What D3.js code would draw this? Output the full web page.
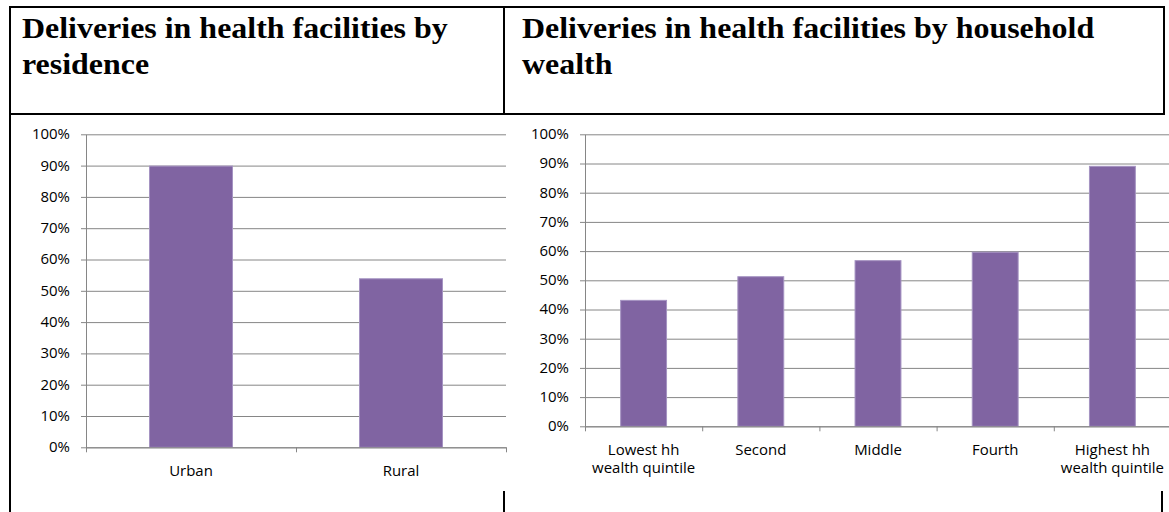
<!DOCTYPE html>
<html>
<head>
<meta charset="utf-8">
<script src="https://cdn.jsdelivr.net/npm/d3@7"></script>
<style>
  body { margin: 0; background: #fff; }
  svg { display: block; }
</style>
</head>
<body>
<svg id="chart" width="1169" height="512"></svg>
<script>
// Share of deliveries taking place in health facilities (%)
const residenceCategories = ["Urban", "Rural"];
const residenceValues = [90.0, 54.0];

const wealthCategories = ["Lowest hh\nwealth quintile", "Second", "Middle", "Fourth", "Highest hh\nwealth quintile"];
const wealthValues = [43.3, 51.4, 56.9, 59.8, 89.2];

const percentTicks = [0, 10, 20, 30, 40, 50, 60, 70, 80, 90, 100];

const titles = [
  "Deliveries in health facilities by\nresidence",
  "Deliveries in health facilities by household\nwealth"
];

const svg = d3.select("#chart");
const BAR = "#8064A2", BAR_EDGE = "#A593C2", GRID = "#868686";
const labelFont = "'Open Sans', sans-serif";
const stretch = 1.07;

// ---- table frame around the two panels ----
const frame = svg.append("g").attr("stroke", "#000").attr("stroke-width", 2);
frame.append("line").attr("x1", 9).attr("x2", 1165).attr("y1", 7).attr("y2", 7);
frame.append("line").attr("x1", 9).attr("x2", 1165).attr("y1", 114).attr("y2", 114);
frame.append("line").attr("x1", 10).attr("x2", 10).attr("y1", 6).attr("y2", 512);
frame.append("line").attr("x1", 504).attr("x2", 504).attr("y1", 6).attr("y2", 115);
frame.append("line").attr("x1", 1164).attr("x2", 1164).attr("y1", 6).attr("y2", 115);
frame.append("line").attr("x1", 504).attr("x2", 504).attr("y1", 491).attr("y2", 512);
frame.append("line").attr("x1", 1162).attr("x2", 1162).attr("y1", 491).attr("y2", 512);

// ---- panel titles ----
[22, 522].forEach((x, i) => {
  const t = svg.append("text")
    .attr("transform", `translate(${x},37.7) scale(1.083,1)`)
    .attr("font-family", "'Liberation Serif', 'Times New Roman', serif")
    .attr("font-weight", "bold")
    .attr("font-size", 29.5)
    .attr("fill", "#000");
  titles[i].split("\n").forEach((line, j) => {
    t.append("tspan").attr("x", 0).attr("y", j * 36.3).text(line);
  });
});

// ---- bar chart panel ----
function panel(categories, values, box) {
  const g = svg.append("g");
  const y = d3.scaleLinear().domain([0, 100]).range([box.bottom, box.top]);
  const x = d3.scaleBand().domain(categories).range([box.left, box.right])
    .paddingInner(0.6).paddingOuter(0.3);

  // horizontal gridlines
  const grid = g.append("g")
    .attr("transform", `translate(${box.left},0)`)
    .call(d3.axisLeft(y).tickValues(percentTicks).tickSize(-(box.right - box.left)).tickFormat(""));
  grid.select(".domain").remove();
  grid.selectAll(".tick line").attr("stroke", GRID).attr("stroke-width", 1);

  // y axis with short outer ticks
  const ya = g.append("g")
    .attr("transform", `translate(${box.left},0)`)
    .call(d3.axisLeft(y).tickValues(percentTicks).tickSize(5).tickSizeOuter(0).tickFormat(""));
  ya.selectAll("path,line").attr("stroke", GRID);

  // y tick labels
  g.append("g").selectAll("text").data(percentTicks).join("text")
    .attr("transform", d => `translate(${box.left - 16},${y(d)}) scale(${stretch},1)`)
    .attr("text-anchor", "end")
    .attr("dy", "0.35em")
    .attr("font-family", labelFont)
    .attr("font-size", 14)
    .attr("fill", "#000")
    .text(d => d + "%");

  // bars
  g.append("g").selectAll("rect").data(values).join("rect")
    .attr("x", (d, i) => x(categories[i]) + 0.5)
    .attr("width", x.bandwidth() - 1)
    .attr("y", d => y(d) + 0.5)
    .attr("height", d => y(0) - y(d) - 0.5)
    .attr("fill", BAR)
    .attr("stroke", BAR_EDGE)
    .attr("stroke-width", 1);

  // x axis with ticks on category boundaries
  const edges = d3.scaleLinear().domain([0, categories.length]).range([box.left, box.right]);
  const xa = g.append("g")
    .attr("transform", `translate(0,${box.bottom})`)
    .call(d3.axisBottom(edges).tickValues(d3.range(categories.length + 1)).tickSize(5).tickSizeOuter(0).tickFormat(""));
  xa.selectAll("path,line").attr("stroke", GRID);

  // category labels
  g.append("g").selectAll("text").data(categories).join("text")
    .attr("transform", d => `translate(${x(d) + x.bandwidth() / 2},${box.bottom + 28.3}) scale(${stretch},1)`)
    .attr("text-anchor", "middle")
    .attr("font-family", labelFont)
    .attr("font-size", 14)
    .attr("fill", "#000")
    .each(function (d) {
      d.split("\n").forEach((line, j) => {
        d3.select(this).append("tspan").attr("x", 0).attr("y", j * 18.3).text(line);
      });
    });
}

panel(residenceCategories, residenceValues, { left: 86, right: 506, top: 134.3, bottom: 447.3 });
panel(wealthCategories, wealthValues, { left: 585, right: 1171, top: 134.3, bottom: 426.3 });
</script>
</body>
</html>
